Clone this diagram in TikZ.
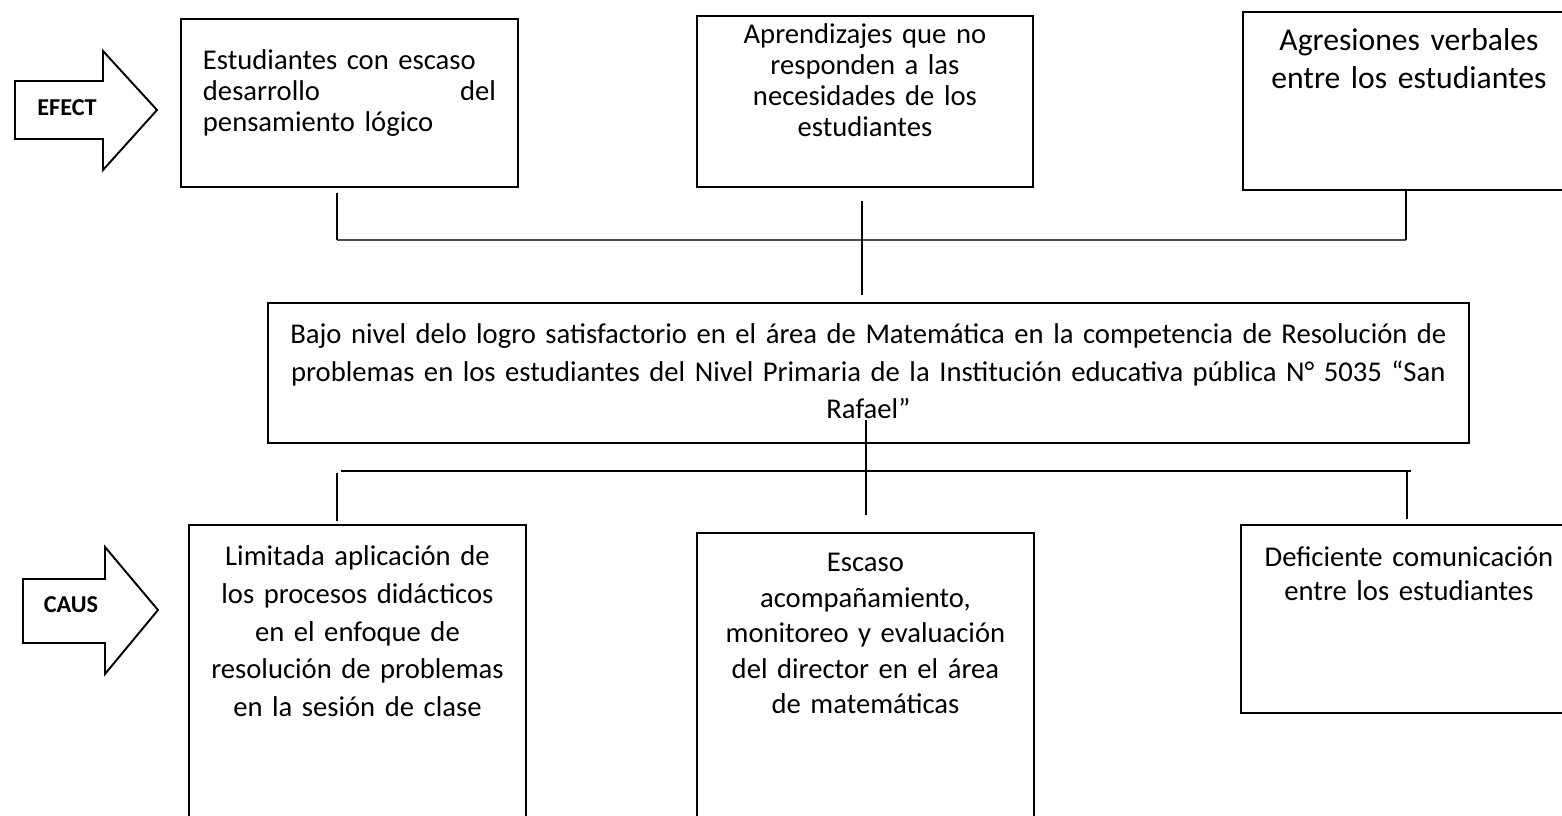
\documentclass[tikz,border=0pt]{standalone}
\usepackage{fontspec}
\setmainfont{Carlito}

\begin{document}
\begin{tikzpicture}[x=0.02cm,y=-0.02cm]
\tikzstyle{box}=[draw,line width=1.1pt,anchor=north west,inner sep=0pt,align=center]
\tikzstyle{link}=[draw,line width=0.6pt]
\tikzstyle{tag}=[draw,line width=1.1pt,line join=miter]
\tikzstyle{lab}=[inner sep=0pt,font=\bfseries\fontsize{13.8}{16}\selectfont]
   \useasboundingbox (0,0) rectangle (1562,815);
   \clip (0,0) rectangle (1562,815);

   \path [tag] (15,81) -- (103,81) -- (103,51) -- (157,110) -- (103,170) -- (103,139) -- (15,139) -- cycle;
   \draw (67,108) node (efect) [lab] {EFECT};
   \path [tag] (23,579) -- (105,579) -- (105,547) -- (158,610) -- (105,674) -- (105,643) -- (23,643) -- cycle;
   \draw (71,605) node (caus) [lab] {CAUS};

   \draw (180,18) node (efA) [box,align=left,inner xsep=0.44cm,text width=5.86cm,text height=1.02cm,text depth=2.34cm,font=\fontsize{16.3}{17.6}\selectfont] {Estudiantes con escaso\\ desarrollo\hfill del\\ pensamiento lógico};
   \draw (696,15) node (efB) [box,text width=6.72cm,text height=0.56cm,text depth=2.86cm,font=\fontsize{16.3}{17.6}\selectfont] {Aprendizajes que no\\ responden a las\\ necesidades de los\\ estudiantes};
   \draw (1242,11) node (efC) [box,text width=6.64cm,text height=0.78cm,text depth=2.78cm,font=\fontsize{18}{21.6}\selectfont] {Agresiones verbales\\ entre los estudiantes};

   \draw (267,302) node (core) [box,text width=24.02cm,text height=0.82cm,text depth=1.98cm,font=\fontsize{16.3}{21.3}\selectfont] {Bajo nivel delo logro satisfactorio en el área de Matemática en la competencia de Resolución de\\ problemas en los estudiantes del Nivel Primaria de la Institución educativa pública N° 5035 “San\\ Rafael”};

   \draw (188,524) node (caD) [box,text width=6.74cm,text height=0.82cm,text depth=5.3cm,font=\fontsize{16.3}{21.4}\selectfont] {Limitada aplicación de\\ los procesos didácticos\\ en el enfoque de\\ resolución de problemas\\ en la sesión de clase};
   \draw (696,532) node (caE) [box,text width=6.74cm,text height=0.78cm,text depth=5.18cm,font=\fontsize{16.3}{20.2}\selectfont] {Escaso\\ acompañamiento,\\ monitoreo y evaluación\\ del director en el área\\ de matemáticas};
   \draw (1240,524) node (caF) [box,text width=6.72cm,text height=0.84cm,text depth=2.92cm,font=\fontsize{16.3}{19.3}\selectfont] {Deficiente comunicación\\ entre los estudiantes};

   \coordinate (tA) at (337,240);
   \coordinate (tB) at (862,240);
   \coordinate (tC) at (1406,240);
   \path [draw,line width=0.9pt,black!70] (tA) -- (tC);
   \path [link,shorten <=0.1cm] (efA.south -| tA) -- (tA);
   \path [link,shorten <=0.26cm,shorten >=0.14cm] (efB.south -| tB) -- (core.north -| tB);
   \path [link] (efC.south -| tC) -- (tC);

   \coordinate (bD) at (337,471);
   \coordinate (bE) at (866,471);
   \coordinate (bF) at (1407,471);
   \path [link] ([xshift=0.08cm]bD) -- ([xshift=0.08cm]bF);
   \path [link,shorten <=0.04cm,shorten >=0.06cm] (bD) -- (caD.north -| bD);
   \path [link,shorten >=0.1cm] (bF) -- (caF.north -| bF);
   \path [link,shorten <=-0.48cm,shorten >=0.34cm] (core.south -| bE) -- (caE.north -| bE);
\end{tikzpicture}
\end{document}
